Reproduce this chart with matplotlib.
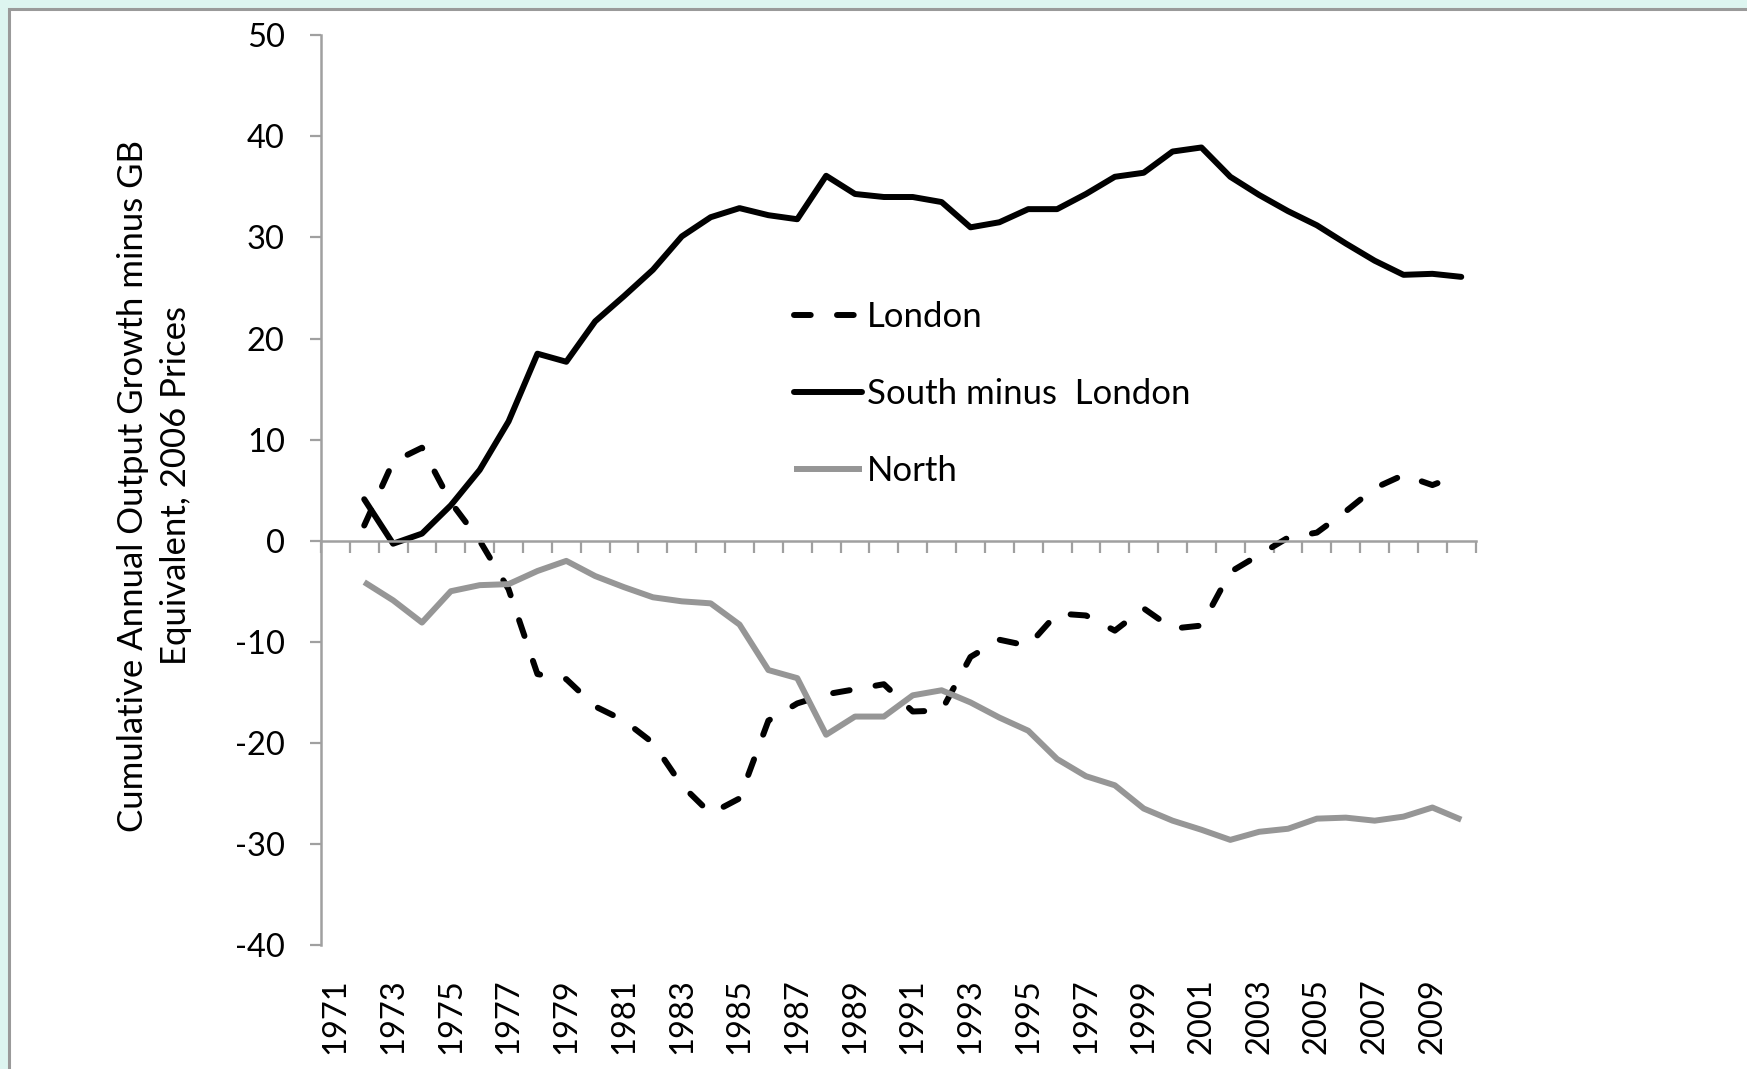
import matplotlib
matplotlib.use("Agg")
from matplotlib import pyplot as plt
from matplotlib.patches import Rectangle
import numpy as np

plt.rcParams['font.family'] = ['Lato', 'DejaVu Sans']
plt.rcParams['axes.unicode_minus'] = False

# years on the category axis (1971 has no data)
years = list(range(1971, 2011))
dataYears = list(range(1972, 2011))

london = [1.5, 7.8, 9.2, 3.8, 0.0, -4.8, -13.2, -13.7, -16.4, -17.8, -20.0,
          -24.2, -27.0, -25.5, -17.8, -16.1, -15.2, -14.7, -14.2, -16.9, -16.8,
          -11.5, -9.8, -10.4, -7.2, -7.4, -8.9, -6.7, -8.7, -8.4, -3.1, -1.4,
          0.3, 0.8, 2.9, 5.2, 6.5, 5.5, 6.6]

southMinusLondon = [4.1, -0.3, 0.7, 3.5, 7.0, 11.8, 18.5, 17.7, 21.7, 24.2, 26.8,
                    30.1, 32.0, 32.9, 32.2, 31.8, 36.1, 34.3, 34.0, 34.0, 33.5,
                    31.0, 31.5, 32.8, 32.8, 34.3, 36.0, 36.4, 38.5, 38.9, 36.0,
                    34.2, 32.6, 31.2, 29.4, 27.7, 26.3, 26.4, 26.1]

north = [-4.1, -5.9, -8.1, -5.0, -4.4, -4.3, -3.0, -2.0, -3.5, -4.6, -5.6,
         -6.0, -6.2, -8.3, -12.8, -13.6, -19.2, -17.4, -17.4, -15.3, -14.8,
         -16.0, -17.5, -18.8, -21.6, -23.3, -24.2, -26.5, -27.7, -28.6, -29.6,
         -28.8, -28.5, -27.5, -27.4, -27.7, -27.3, -26.4, -27.6]

yTicks = list(range(-40, 51, 10))
xLabelYears = years[::2]

AXIS_GREY = '#a0a0a0'
TICK_SIZE = 23.5
TEXT_SIZE = 25
LINE_W = 4.3

fig = plt.figure(figsize=(17.47, 10.69), dpi=100)
fig.patch.set_facecolor('#ddf5f0')
# white panel with grey frame on the left and top
panel = Rectangle((9 / 1747, -0.05), 1.1, 1 - 9 / 1069 + 0.05,
                  transform=fig.transFigure, facecolor='white',
                  edgecolor='#9a9a9a', linewidth=2.2, zorder=-10)
fig.patches.append(panel)

ax = fig.add_axes([0.1837, 0.116, 0.661, 0.851])
ax.set_facecolor('none')

ax.plot(dataYears, london, color='black', linewidth=LINE_W,
        dashes=(2.8, 4.4), dash_capstyle='round', label='London')
ax.plot(dataYears, southMinusLondon, color='black', linewidth=LINE_W,
        solid_capstyle='round', label='South minus  London')
ax.plot(dataYears, north, color='#969696', linewidth=LINE_W,
        solid_capstyle='butt', label='North')

ax.set_xlim(1970.5, 2010.5)
ax.set_ylim(-40, 50)

# axes look
for side in ['top', 'right']:
    ax.spines[side].set_visible(False)
ax.spines['bottom'].set_position(('data', 0))
ax.spines['bottom'].set_color(AXIS_GREY)
ax.spines['left'].set_color(AXIS_GREY)
ax.spines['bottom'].set_linewidth(1.8)
ax.spines['left'].set_linewidth(1.8)

ax.set_xticks(np.arange(1970.5, 2011, 1.0))
ax.set_xticklabels([])
ax.tick_params(axis='x', direction='out', length=8.5, width=1.6,
               color=AXIS_GREY)

ax.set_yticks(yTicks)
ax.tick_params(axis='y', direction='out', length=8, width=1.6,
               color=AXIS_GREY, pad=18, labelsize=TICK_SIZE)

# year labels sit below the plot, not on the zero line
sec = ax.secondary_xaxis('bottom')
sec.set_xticks(xLabelYears)
sec.set_xticklabels([str(y) for y in xLabelYears], rotation=90,
                    fontsize=TICK_SIZE)
sec.tick_params(axis='x', length=0, pad=24)
sec.spines['bottom'].set_visible(False)

ax.set_ylabel('Cumulative Annual Output Growth minus GB\nEquivalent, 2006 Prices',
              fontsize=TEXT_SIZE, linespacing=1.4, multialignment='center')
ax.yaxis.set_label_coords(-0.112, 0.505)

ax.legend(loc='upper left', bbox_to_anchor=(0.4095, 0.708), frameon=False,
          fontsize=TEXT_SIZE, borderpad=0, borderaxespad=0,
          handlelength=1.95, handletextpad=0.15, labelspacing=1.3)

fig.savefig('out.png', dpi=100, facecolor=fig.get_facecolor())
